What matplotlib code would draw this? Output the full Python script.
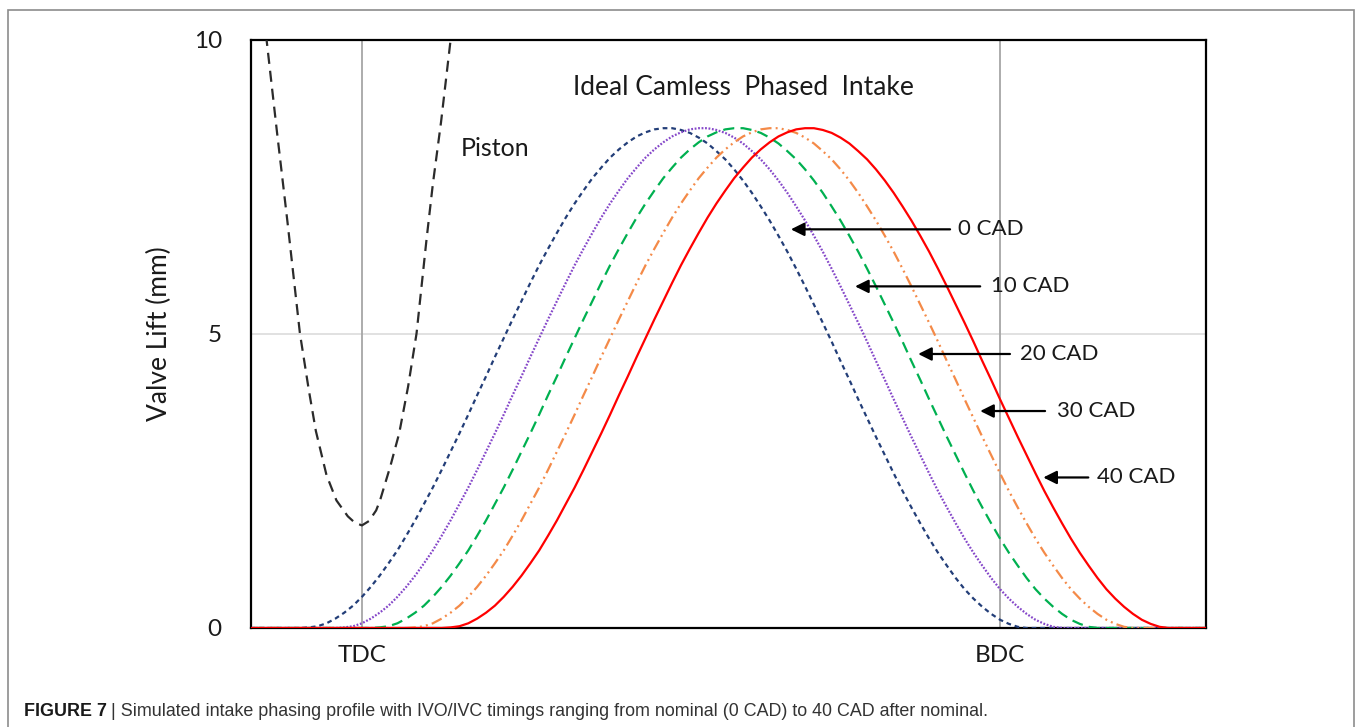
import matplotlib
matplotlib.use("Agg")
import matplotlib.pyplot as plt
from matplotlib.patches import Rectangle

plt.rcParams['lines.scale_dashes'] = False
plt.rcParams['font.family'] = ['Lato', 'DejaVu Sans']

# intake lift profile at nominal timing (crank angle deg, mm)
base_cad = [-80,
            -20, -17.5, -15, -12.5, -10, -7.5, -5, -2.5, 0, 2.5, 5, 7.5, 10,
            12.5, 15, 17.5, 20, 22.5, 25, 27.5, 30, 32.5, 35, 37.5, 40, 42.5,
            45, 47.5, 50, 52.5, 55, 57.5, 60, 62.5, 65, 67.5, 70, 72.5, 75,
            77.5, 80, 82.5, 85, 87.5, 90, 92.5, 95, 97.5, 100, 102.5, 105,
            107.5, 110, 112.5, 115, 117.5, 120, 122.5, 125, 127.5, 130, 132.5,
            135, 137.5, 140, 142.5, 145, 147.5, 150, 152.5, 155, 157.5, 160,
            162.5, 165, 167.5, 170, 172.5, 175, 177.5, 180, 182.5, 185, 187.5,
            190,
            240]
base_lift = [0,
             0, 0, 0.01, 0.03, 0.08, 0.16, 0.26, 0.38, 0.53, 0.70, 0.89, 1.10,
             1.32, 1.57, 1.83, 2.11, 2.39, 2.69, 3.00, 3.31, 3.63, 3.96, 4.28,
             4.61, 4.93, 5.25, 5.56, 5.87, 6.17, 6.45, 6.72, 6.98, 7.22, 7.44,
             7.65, 7.83, 8.00, 8.14, 8.26, 8.36, 8.43, 8.48, 8.50, 8.50, 8.47,
             8.42, 8.34, 8.24, 8.11, 7.97, 7.80, 7.61, 7.40, 7.17, 6.93, 6.67,
             6.40, 6.11, 5.81, 5.50, 5.19, 4.87, 4.54, 4.22, 3.89, 3.57, 3.25,
             2.94, 2.63, 2.33, 2.05, 1.78, 1.52, 1.28, 1.06, 0.85, 0.66, 0.50,
             0.36, 0.24, 0.14, 0.07, 0.02, 0, 0,
             0]

# phase shifts applied to the intake event
phase_shift = [0, 10, 20, 30, 40]
phase_labels = ['0 CAD', '10 CAD', '20 CAD', '30 CAD', '40 CAD']

# piston position near TDC
piston_cad = [-28.5, -26.9, -24, -21, -17.5, -15, -13, -10, -7.2, -4, -2, 0,
              2, 4, 5.1, 8, 10.5, 13, 15.4, 18.2, 20, 22.3, 25.0, 26.5]
piston_pos = [10.85, 10.0, 8.45, 6.9, 5.01, 4.05, 3.35, 2.6, 2.17, 1.9, 1.79,
              1.745, 1.82, 2.0, 2.17, 2.75, 3.31, 4.1, 5.01, 6.6, 7.55, 8.6,
              10.0, 10.8]

# annotation arrows: (tail cad, head cad, lift)
arrow_tail = [165.9, 174.4, 182.8, 192.7, 204.9]
arrow_head = [121.0, 139.1, 156.9, 174.4, 192.2]
arrow_y = [6.78, 5.81, 4.66, 3.69, 2.56]
label_x = [168.2, 177.5, 185.7, 196.1, 207.4]

colors = ['#233E78', '#8547C9', '#00B050', '#F48A48', '#FF0000']
dashes = [(3.4, 2.8), (1.3, 1.2), (8, 4.5), (8, 3, 1.4, 3, 1.4, 3), ()]

fig = plt.figure(figsize=(13.56, 7.27), dpi=100)
ax = fig.add_axes([251 / 1356, 1 - 628 / 727, 955 / 1356, 588 / 727])

# reference lines
ax.axhline(5, color='#D9D9D9', lw=1.1, zorder=1)
for xv in [0, 180]:
    ax.axvline(xv, color='#A6A6A6', lw=1.3, zorder=1)

ax.plot(piston_cad, piston_pos, color='#2B2B2B', lw=1.6, dashes=(8, 5), zorder=3)

for shift, col, ds in zip(phase_shift, colors, dashes):
    xs = [c + shift for c in base_cad]
    line, = ax.plot(xs, base_lift, color=col, lw=1.6, zorder=3)
    if ds:
        line.set_dashes(ds)

for t, h, y, lx, lab in zip(arrow_tail, arrow_head, arrow_y, label_x, phase_labels):
    ax.annotate('', xy=(h, y), xytext=(t, y),
                arrowprops=dict(arrowstyle='-|>', color='black', lw=1.6,
                                mutation_scale=20, shrinkA=0, shrinkB=0),
                zorder=4)
    ax.text(lx, y, lab, fontsize=16, ha='left', va='center', color='#1A1A1A')

ax.text(107.5, 9.2, 'Ideal Camless  Phased  Intake', fontsize=19,
        ha='center', va='center', color='#1A1A1A')
ax.text(27.9, 8.16, 'Piston', fontsize=18, ha='left', va='center',
        color='#1A1A1A')

ax.set_xlim(-31.3, 238.1)
ax.set_ylim(0, 10)
ax.set_yticks([0, 5, 10])
ax.set_yticklabels(['0', '5', '10'])
ax.set_xticks([0, 180])
ax.set_xticklabels(['TDC', 'BDC'])
ax.tick_params(axis='both', length=0, labelsize=17.5, colors='#1A1A1A')
ax.tick_params(axis='y', pad=21)
ax.tick_params(axis='x', pad=12)
ax.set_ylabel('Valve Lift (mm)', fontsize=19, color='#1A1A1A')
ax.yaxis.set_label_coords(-0.0827, 0.5)
for sp in ax.spines.values():
    sp.set_linewidth(1.6)
    sp.set_color('black')

# outer frame and caption
fig.add_artist(Rectangle((8 / 1356, -0.05), 1346 / 1356, 1.05 - 10 / 727,
                         transform=fig.transFigure, fill=False,
                         edgecolor='#8C8C8C', lw=1.2))

cap_y = 1 - 712 / 727
bold = fig.text(24 / 1356, cap_y, 'FIGURE 7', va='center', ha='left',
                family='Liberation Sans', fontsize=12.9, fontweight='bold',
                color='#1A1A1A')
fig.canvas.draw()
bb = bold.get_window_extent(renderer=fig.canvas.get_renderer())
fig.text((bb.x1 + 4) / 1356, cap_y,
         '| Simulated intake phasing profile with IVO/IVC timings ranging from '
         'nominal (0 CAD) to 40 CAD after nominal.',
         va='center', ha='left', family='Liberation Sans', fontsize=12.9,
         color='#333333')

fig.savefig('out.png', dpi=100)
